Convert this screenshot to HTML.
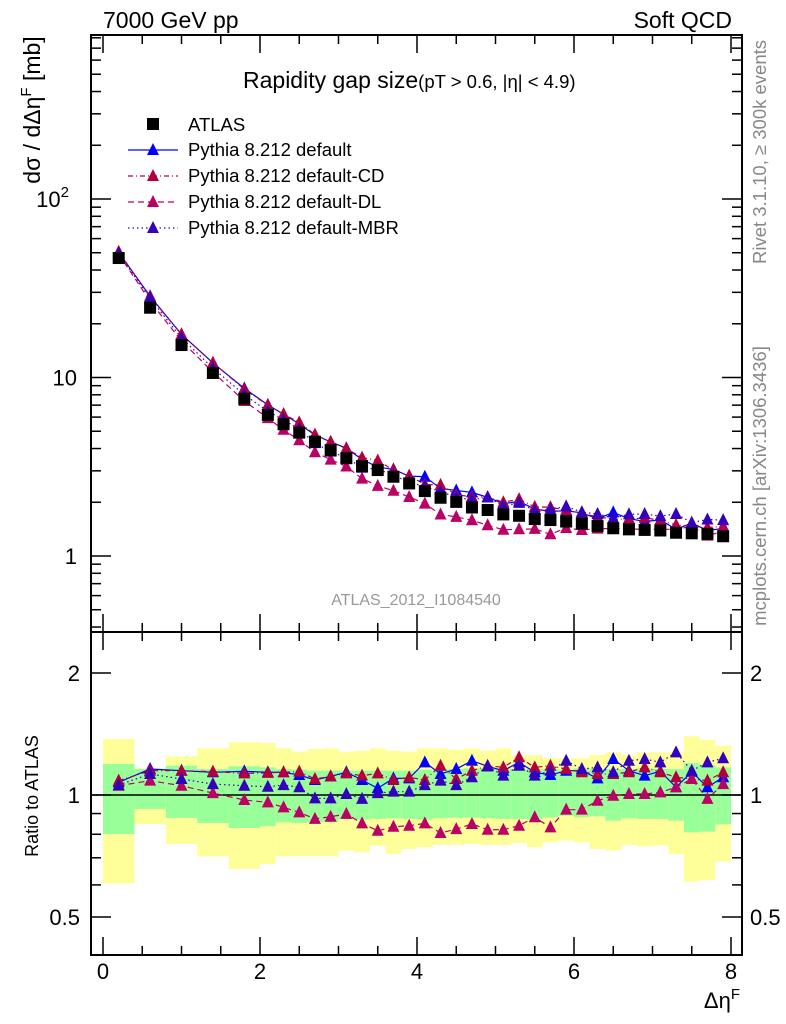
<!DOCTYPE html>
<html><head><meta charset="utf-8"><style>
html,body{margin:0;padding:0;background:#fff;}
svg{display:block;font-family:"Liberation Sans",sans-serif;}
</style></head><body>
<svg id="chart" width="786" height="1024" viewBox="0 0 786 1024" xmlns="http://www.w3.org/2000/svg">
<text x="103" y="28" font-size="23">7000 GeV pp</text>
<text x="732" y="28" font-size="23" text-anchor="end">Soft QCD</text>
<text x="243" y="88" font-size="23">Rapidity gap size<tspan font-size="18.5">(pT &gt; 0.6, |η| &lt; 4.9)</tspan></text>
<text transform="translate(40,110) rotate(-90)" font-size="23" text-anchor="middle">dσ / dΔη<tspan dy="-9" font-size="15">F</tspan><tspan dy="9"> [mb]</tspan></text>
<text transform="translate(766,152) rotate(-90)" font-size="18.5" fill="#888" text-anchor="middle">Rivet 3.1.10, ≥ 300k events</text>
<text transform="translate(766,486) rotate(-90)" font-size="18.5" fill="#888" text-anchor="middle">mcplots.cern.ch [arXiv:1306.3436]</text>
<text x="416" y="605" font-size="16" fill="#999" text-anchor="middle">ATLAS_2012_I1084540</text>
<text transform="translate(38,796) rotate(-90)" font-size="18" text-anchor="middle">Ratio to ATLAS</text>
<text x="740" y="1008" font-size="22" text-anchor="end">Δη<tspan dy="-9" font-size="15">F</tspan></text>
<g id="bands"></g><g id="lines"></g><g id="marks"></g><g id="axes"></g><g id="legend"></g>
</svg>
<script>
const binEdges=[0,0.4,0.8,1.2,1.6,2.0,2.2,2.4,2.6,2.8,3.0,3.2,3.4,3.6,3.8,4.0,4.2,4.4,4.6,4.8,5.0,5.2,5.4,5.6,5.8,6.0,6.2,6.4,6.6,6.8,7.0,7.2,7.4,7.6,7.8,8.0];
const atlasValues=[46.7,24.6,15.2,10.6,7.6,6.17,5.47,4.91,4.37,3.92,3.53,3.19,3.03,2.78,2.55,2.31,2.12,2.01,1.87,1.81,1.71,1.68,1.61,1.59,1.56,1.52,1.47,1.43,1.41,1.40,1.39,1.35,1.34,1.33,1.29];
const ratioDefault=[1.075,1.159,1.148,1.138,1.144,1.138,1.138,1.12,1.089,1.112,1.138,1.089,1.039,1.099,1.099,1.204,1.127,1.159,1.215,1.177,1.148,1.204,1.138,1.12,1.148,1.148,1.099,1.227,1.148,1.116,1.144,1.045,1.141,1.045,1.106];
const ratioCD=[1.085,1.148,1.148,1.142,1.131,1.134,1.138,1.142,1.095,1.112,1.131,1.116,1.131,1.089,1.106,1.089,1.181,1.095,1.148,1.181,1.170,1.239,1.170,1.181,1.159,1.138,1.127,1.127,1.138,1.170,1.138,1.106,1.095,1.085,1.138];
const ratioDL=[1.054,1.085,1.054,1.011,0.972,0.959,0.932,0.906,0.873,0.884,0.898,0.851,0.816,0.835,0.840,0.851,0.806,0.824,0.848,0.821,0.821,0.840,0.881,0.832,0.920,0.920,0.968,0.996,1.006,1.006,1.015,1.045,1.095,0.978,1.064];
const ratioMBR=[1.058,1.127,1.095,1.064,1.054,1.048,1.058,1.045,0.981,0.981,1.006,0.978,1.011,1.019,1.019,1.058,1.085,1.058,1.106,1.177,1.116,1.181,1.116,1.148,1.215,1.159,1.170,1.138,1.215,1.227,1.204,1.274,1.148,1.204,1.232];
const totUp=[1.375,1.164,1.246,1.304,1.349,1.344,1.304,1.279,1.299,1.304,1.279,1.286,1.304,1.286,1.279,1.304,1.304,1.294,1.304,1.286,1.304,1.255,1.255,1.232,1.232,1.232,1.255,1.274,1.255,1.274,1.274,1.274,1.396,1.368,1.323];
const totDn=[0.605,0.848,0.757,0.706,0.657,0.676,0.706,0.706,0.706,0.706,0.729,0.722,0.750,0.715,0.736,0.743,0.753,0.753,0.757,0.753,0.753,0.761,0.743,0.764,0.772,0.764,0.736,0.729,0.753,0.747,0.750,0.715,0.611,0.617,0.685];
const statUp=[1.193,1.159,1.181,1.159,1.177,1.170,1.159,1.155,1.148,1.148,1.148,1.148,1.148,1.148,1.148,1.155,1.159,1.159,1.164,1.164,1.164,1.159,1.159,1.159,1.155,1.164,1.159,1.159,1.159,1.164,1.159,1.159,1.199,1.186,1.170];
const statDn=[0.801,0.924,0.878,0.853,0.829,0.837,0.856,0.853,0.856,0.859,0.873,0.869,0.873,0.876,0.873,0.869,0.876,0.879,0.879,0.876,0.873,0.873,0.869,0.881,0.889,0.881,0.886,0.864,0.876,0.873,0.873,0.864,0.809,0.812,0.847];
const xTicks=[0,2,4,6,8];
const ratioTicks=[0.5,1,2];

const NS="http://www.w3.org/2000/svg";
const L=91,R=742,T=35,M=632,B=955;
const X=v=>103+v*78.5;
const Y=v=>556-178.5*Math.log10(v);
const YR=v=>795-122*Math.log2(v);
function el(tag,attrs,parent){const e=document.createElementNS(NS,tag);for(const k in attrs)e.setAttribute(k,attrs[k]);parent.appendChild(e);return e;}
const g=id=>document.getElementById(id);

for(let i=0;i<atlasValues.length;i++){
  const x0=X(binEdges[i]),x1=X(binEdges[i+1]);
  const y=el('rect',{x:x0,y:YR(totUp[i]),width:x1-x0,height:YR(totDn[i])-YR(totUp[i]),fill:'#ffff99'},g('bands'));
  
  
  const s=el('rect',{x:x0,y:YR(statUp[i]),width:x1-x0,height:YR(statDn[i])-YR(statUp[i]),fill:'#99ff99'},g('bands'));
  
  
}
const ref=el('line',{x1:L,x2:R,y1:YR(1),y2:YR(1),stroke:'#000','stroke-width':1.5},g('bands'));



const centers=atlasValues.map((_,i)=>(binEdges[i]+binEdges[i+1])/2);
function tri(x,y,c,parent){return el('polygon',{points:`${x-6},${y+5} ${x+6},${y+5} ${x},${y-7}`,fill:c},parent);}
const series=[
 {name:'default',r:ratioDefault,c:'#0000ff',dash:''},
 {name:'default-cd',r:ratioCD,c:'#b3003c',dash:'5,3,1,3'},
 {name:'default-dl',r:ratioDL,c:'#bb0066',dash:'6,4'},
 {name:'default-mbr',r:ratioMBR,c:'#3300bb',dash:'1.5,3'}
];
series.forEach(s=>{
  const mc=atlasValues.map((v,i)=>v*s.r[i]);
  const p1=el('polyline',{points:centers.map((c,i)=>X(c)+','+Y(mc[i])).join(' '),fill:'none',stroke:s.c,'stroke-width':1.2,'stroke-dasharray':s.dash},g('lines'));
  
  
  const p2=el('polyline',{points:centers.map((c,i)=>X(c)+','+YR(s.r[i])).join(' '),fill:'none',stroke:s.c,'stroke-width':1.2,'stroke-dasharray':s.dash},g('lines'));
  
  
  centers.forEach((c,i)=>{
    const t1=tri(X(c),Y(mc[i]),s.c,g('marks'));
    
    
    const t2=tri(X(c),YR(s.r[i]),s.c,g('marks'));
    
    
  });
});
centers.forEach((c,i)=>{
  const sq=el('rect',{x:X(c)-6,y:Y(atlasValues[i])-6,width:12,height:12,fill:'#000'},g('marks'));
  
  
});

const ax=g('axes');
[[T,M],[M,B]].forEach(([t,b])=>{
  const r=el('rect',{x:L,y:t,width:R-L,height:b-t,fill:'none',stroke:'#000','stroke-width':2},ax);
  
  
});
function tick(x1,y1,x2,y2){el('line',{x1,y1,x2,y2,stroke:'#000','stroke-width':1.5},ax);}
for(let v=0;v<=8.001;v+=0.5){
  const x=X(v),len=(Math.abs(v%2)<1e-6)?18:9;
  tick(x,T,x,T+len);tick(x,M,x,M-len);tick(x,M,x,M+len);tick(x,B,x,B-len);
}
xTicks.forEach(v=>{
  const t=el('text',{x:X(v),y:979,'font-size':22,'text-anchor':'middle'},ax);t.textContent=v;
  
  
});
for(let d=-1;d<=2;d++){for(let m=1;m<10;m++){
  const v=m*Math.pow(10,d),y=Y(v);if(y<T||y>M)continue;
  const len=m===1?20:10;tick(L,y,L+len,y);tick(R,y,R-len,y);
}}
[[100,'10','2'],[10,'10',''],[1,'1','']].forEach(([v,b,e])=>{
  const t=el('text',{x:e?69:77,y:Y(v)+8,'font-size':22,'text-anchor':'end'},ax);
  t.textContent=b;
  if(e){const s=el('tspan',{dy:-10,'font-size':15},t);s.textContent=e;}
  
  
});
for(let d=-1;d<=0;d++){for(let m=1;m<10;m++){
  const v=m*Math.pow(10,d),y=YR(v);if(y<M||y>B)continue;
  const len=(v===1||v===0.5||v===2)?20:10;tick(L,y,L+len,y);tick(R,y,R-len,y);
}}
ratioTicks.forEach(v=>{
  const t=el('text',{x:80,y:YR(v)+8,'font-size':22,'text-anchor':'end'},ax);t.textContent=v;
  
  
  const t2=el('text',{x:750,y:YR(v)+8,'font-size':22},ax);t2.textContent=v;
  
  
});

const lg=g('legend');
const ls=el('rect',{x:147,y:118,width:12,height:12,fill:'#000'},lg);


const lt=el('text',{x:188,y:131,'font-size':18.5},lg);lt.textContent='ATLAS';


const labels=['Pythia 8.212 default','Pythia 8.212 default-CD','Pythia 8.212 default-DL','Pythia 8.212 default-MBR'];
series.forEach((s,i)=>{
  const y=150+i*26;
  const l=el('line',{x1:128,x2:178,y1:y,y2:y,stroke:s.c,'stroke-width':1.2,'stroke-dasharray':s.dash},lg);
  
  
  const m=tri(153,y,s.c,lg);
  
  
  const t=el('text',{x:188,y:y+6,'font-size':18.5},lg);t.textContent=labels[i];
  
  
});
</script>
</body></html>
